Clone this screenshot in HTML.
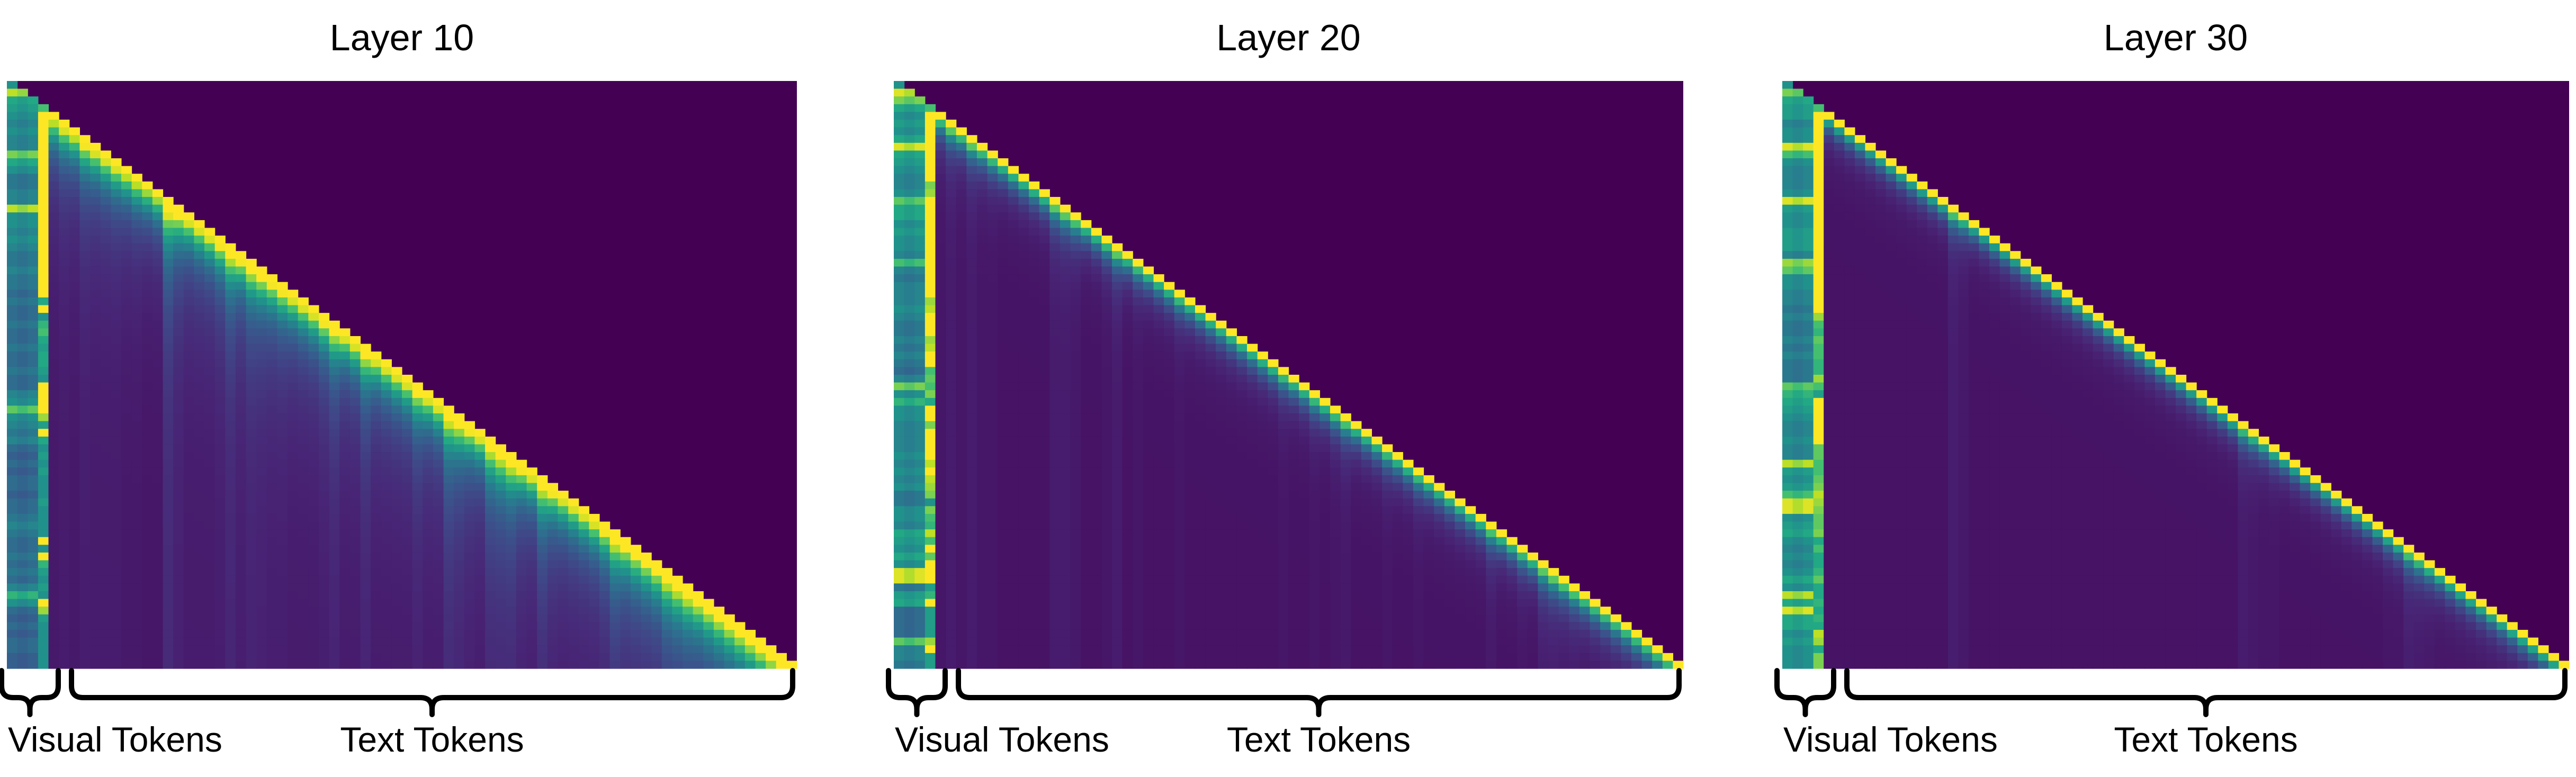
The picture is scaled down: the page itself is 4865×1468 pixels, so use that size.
<!DOCTYPE html>
<html><head><meta charset="utf-8">
<style>
html,body{margin:0;padding:0;background:#fff;}
svg{display:block;font-family:"Liberation Sans",sans-serif;}
</style></head>
<body>
<svg id="fig" width="4865" height="1468" viewBox="0 0 4865 1468" xmlns="http://www.w3.org/2000/svg">
<rect x="0" y="0" width="4865" height="1468" fill="#fff"/>
</svg>
<script>
// ---- data ----
const N = 76;
const titles = ["Layer 10", "Layer 20", "Layer 30"];
// visual-token (cols 0-2) intensity per row
const vis1 = [0.5,0.9,0.6,0.55,0.5,0.45,0.5,0.45,0.45,0.8,0.6,0.5,0.4,0.4,0.45,0.45,0.9,0.5,0.5,0.45,0.5,0.45,0.4,0.4,0.45,0.4,0.4,0.35,0.4,0.35,0.35,0.4,0.35,0.35,0.4,0.35,0.35,0.4,0.35,0.35,0.45,0.5,0.75,0.5,0.45,0.4,0.45,0.35,0.3,0.35,0.3,0.35,0.35,0.3,0.35,0.35,0.4,0.45,0.4,0.35,0.35,0.4,0.35,0.4,0.35,0.45,0.65,0.5,0.35,0.3,0.35,0.3,0.35,0.35,0.3,0.3];
const vis2 = [0.5,0.95,0.8,0.6,0.5,0.55,0.5,0.6,0.95,0.6,0.55,0.5,0.45,0.45,0.5,0.75,0.6,0.6,0.5,0.55,0.5,0.5,0.45,0.7,0.45,0.4,0.45,0.45,0.45,0.5,0.45,0.4,0.4,0.45,0.4,0.45,0.4,0.35,0.45,0.8,0.5,0.65,0.5,0.5,0.45,0.45,0.45,0.45,0.5,0.45,0.5,0.45,0.5,0.4,0.4,0.5,0.5,0.45,0.6,0.55,0.5,0.6,0.5,0.95,0.95,0.4,0.55,0.6,0.35,0.35,0.35,0.35,0.75,0.45,0.45,0.4];
const vis3 = [0.5,0.8,0.6,0.55,0.55,0.45,0.5,0.5,0.95,0.7,0.5,0.45,0.45,0.45,0.5,0.95,0.55,0.5,0.5,0.55,0.55,0.55,0.45,0.85,0.75,0.5,0.5,0.45,0.45,0.4,0.45,0.4,0.4,0.45,0.4,0.45,0.4,0.4,0.4,0.75,0.65,0.6,0.55,0.5,0.45,0.45,0.5,0.45,0.45,0.9,0.55,0.5,0.55,0.7,0.95,0.95,0.5,0.55,0.6,0.5,0.45,0.5,0.45,0.5,0.6,0.5,0.9,0.6,0.95,0.6,0.6,0.5,0.55,0.5,0.5,0.5];
// attention-sink column (col 3) per row
const sink1 = [0.5,0.55,0.6,0.7,1,1,1,1,1,1,1,1,1,1,1,1,1,1,1,1,1,1,1,1,1,1,1,1,0.6,1,0.5,0.65,0.7,0.6,0.55,0.6,0.6,0.55,0.5,1,1,1,1,0.85,0.55,1,0.6,0.5,0.55,0.5,0.55,0.5,0.5,0.5,0.55,0.5,0.5,0.5,0.5,1,0.5,1,0.65,0.55,0.5,0.55,0.5,1,0.85,0.55,0.5,0.5,0.5,0.5,0.5,0.5];
const sink2 = [0.5,0.55,0.6,0.7,1,1,1,1,1,1,1,1,1,0.8,0.85,1,1,1,1,1,1,1,1,1,1,1,1,1,0.85,0.9,1,1,1,0.85,0.9,1,1,0.7,0.75,0.7,0.8,0.6,1,1,0.8,1,1,1,1,0.9,1,0.9,0.85,0.8,0.5,0.8,0.7,0.65,0.9,0.7,1,0.75,1,1,1,0.55,0.65,1,0.55,0.55,0.55,0.55,0.85,1,0.55,0.55];
const sink3 = [0.5,0.55,0.6,0.7,1,1,1,1,1,1,1,1,1,1,1,1,1,1,1,1,1,1,1,1,1,1,1,1,1,1,0.85,0.7,0.65,0.75,0.7,0.7,0.65,0.65,0.85,0.7,0.55,1,1,1,1,1,1,0.75,0.75,0.7,0.7,0.75,0.8,0.9,0.85,0.8,0.75,0.75,0.8,0.6,0.7,0.6,0.6,0.65,0.75,0.6,0.6,0.65,0.6,0.65,0.6,0.9,0.85,0.6,0.8,0.8];
// text-token column strength
const col1 = [0,0,0,0,0.25,0.3,0.25,0.35,0.3,0.3,0.3,0.25,0.25,0.2,0.2,0.6,0.4,0.3,0.3,0.3,0.35,0.5,0.35,0.45,0.4,0.35,0.35,0.3,0.3,0.3,0.35,0.45,0.3,0.3,0.45,0.3,0.3,0.3,0.3,0.4,0.3,0.3,0.55,0.45,0.35,0.3,0.5,0.5,0.5,0.35,0.3,0.5,0.35,0.3,0.3,0.3,0.3,0.35,0.5,0.4,0.4,0.4,0.4,0.5,0.5,0.5,0.45,0.45,0.45,0.45,0.45,0.45,0.45,0.45,0.45,0.45];
const col2 = [0,0,0,0,0.2,0.3,0.2,0.3,0.2,0.2,0.15,0.15,0.15,0.15,0.15,0.3,0.3,0.25,0.15,0.15,0.2,0.3,0.15,0.2,0.15,0.15,0.15,0.2,0.15,0.15,0.15,0.15,0.15,0.15,0.15,0.15,0.15,0.2,0.15,0.15,0.2,0.15,0.2,0.25,0.15,0.15,0.15,0.2,0.15,0.15,0.2,0.15,0.15,0.15,0.15,0.15,0.15,0.25,0.15,0.15,0.2,0.15,0.3,0.3,0.25,0.25,0.2,0.2,0.2,0.2,0.2,0.2,0.2,0.2,0.2,0.2];
const col3 = [0,0,0,0,0.15,0.15,0.15,0.15,0.15,0.15,0.15,0.15,0.15,0.15,0.15,0.15,0.35,0.25,0.15,0.15,0.15,0.15,0.15,0.15,0.15,0.15,0.15,0.15,0.15,0.15,0.15,0.15,0.15,0.15,0.15,0.15,0.15,0.15,0.15,0.15,0.15,0.15,0.15,0.15,0.3,0.25,0.2,0.2,0.15,0.15,0.15,0.15,0.15,0.15,0.15,0.15,0.15,0.15,0.2,0.2,0.35,0.3,0.25,0.2,0.2,0.2,0.2,0.2,0.2,0.2,0.2,0.2,0.2,0.2,0.2,0.2];
// diagonal strength (per panel) and band widths
const diagS = [0.95, 0.95, 0.9];
const bandW = [2.5, 1.4, 1.2];
const colL = [9, 4, 3];

const visArr = [vis1, vis2, vis3];
const sinkArr = [sink1, sink2, sink3];
const colArr = [col1, col2, col3];

// ---- layout ----
const panX = [13, 1688, 3366];
const panW = [1492, 1491, 1486];
const panY = 153, panH = 1110;

const vir = [[68,1,84],[72,36,117],[65,68,135],[53,95,141],[42,120,142],[33,145,140],[34,168,132],[68,191,112],[122,209,81],[189,223,38],[253,231,37]];
function viridis(t){
  t = Math.max(0, Math.min(1, t));
  const p = t*(vir.length-1), i = Math.min(vir.length-2, Math.floor(p)), f = p-i;
  const a = vir[i], b = vir[i+1];
  return `rgb(${Math.round(a[0]+(b[0]-a[0])*f)},${Math.round(a[1]+(b[1]-a[1])*f)},${Math.round(a[2]+(b[2]-a[2])*f)})`;
}
function cellVal(p, r, c){
  if (c > r) return 0;
  if (c < 3) return visArr[p][r] * (c===1 ? 0.93 : 1);
  if (c === 3) return sinkArr[p][r];
  const d = r - c;
  return 0.03 + colArr[p][c]*(0.15 + 0.85*Math.exp(-d/colL[p])) + diagS[p]*Math.exp(-d/bandW[p]);
}

const NS = "http://www.w3.org/2000/svg";
const svg = document.getElementById('fig');
function mk(tag, attrs){ const e = document.createElementNS(NS, tag); for (const k in attrs) e.setAttribute(k, attrs[k]); return e; }

for (let p = 0; p < 3; p++){
  const g = mk('g', {});
  
  
  svg.appendChild(g);
  const x0 = panX[p], w = panW[p];
  const cw = w / N, ch = panH / N;
  const bg = mk('rect', {x:x0, y:panY, width:w, height:panH, fill:viridis(0)});
  
  
  g.appendChild(bg);
  for (let r = 0; r < N; r++){
    for (let c = 0; c <= r; c++){
      const v = cellVal(p, r, c);
      const cell = mk('rect', {x:(x0 + c*cw).toFixed(2), y:(panY + r*ch).toFixed(2), width:(cw+0.6).toFixed(2), height:(ch+0.6).toFixed(2), fill:viridis(v)});
      
      
      g.appendChild(cell);
    }
  }
  const t = mk('text', {x:x0 + w/2, y:95, 'font-size':70, 'text-anchor':'middle', fill:'#000'});
  t.textContent = titles[p];
  
  
  svg.appendChild(t);

  function brace(x1, x2, name){
    const m = (x1+x2)/2, yt = 1267, yh = 1318, r = 22;
    const d = `M${x1},${yt} L${x1},${yh-r} Q${x1},${yh} ${x1+r},${yh} L${m-r},${yh} Q${m},${yh} ${m},${yh+r} L${m},1350 M${x2},${yt} L${x2},${yh-r} Q${x2},${yh} ${x2-r},${yh} L${m+r},${yh} Q${m},${yh} ${m},${yh+r}`;
    const b = mk('path', {d:d, fill:'none', stroke:'#000', 'stroke-width':10, 'stroke-linecap':'round', 'stroke-linejoin':'round'});
    
    
    svg.appendChild(b);
    return m;
  }
  brace(x0 - 10, x0 + 97, 'visual-tokens-brace');
  const tm = brace(x0 + 122, x0 + w - 8, 'text-tokens-brace');
  const l1 = mk('text', {x:x0 + 2, y:1420, 'font-size':66, fill:'#000'});
  l1.textContent = 'Visual Tokens';
  
  
  svg.appendChild(l1);
  const l2 = mk('text', {x:tm, y:1420, 'font-size':66, 'text-anchor':'middle', fill:'#000'});
  l2.textContent = 'Text Tokens';
  
  
  svg.appendChild(l2);
}
</script>
</body></html>
